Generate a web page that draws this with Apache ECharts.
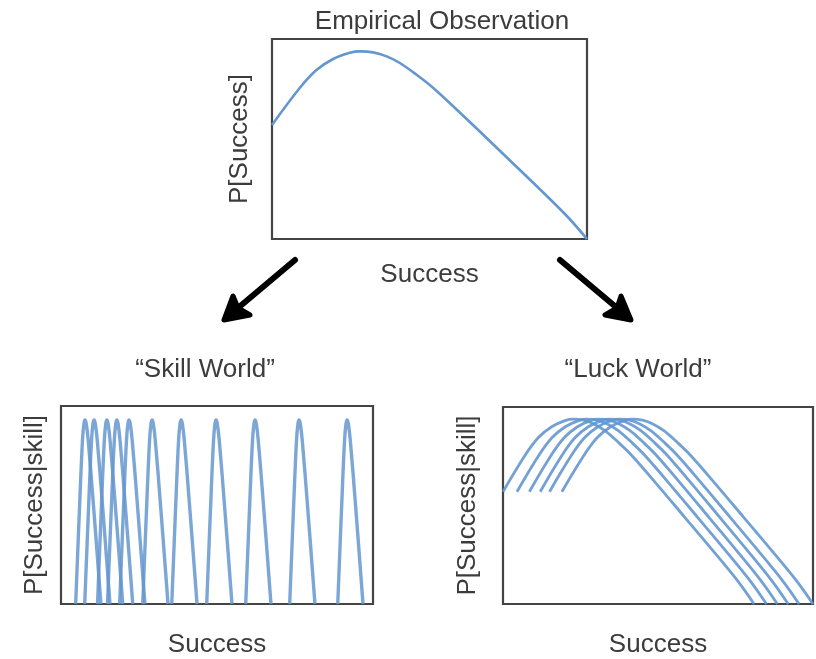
<!DOCTYPE html>
<html>
<head>
<meta charset="utf-8">
<script src="https://cdn.jsdelivr.net/npm/echarts@6/dist/echarts.min.js"></script>
<style>
html,body{margin:0;padding:0;background:#fff;}
#chart{width:816px;height:659px;}
</style>
</head>
<body>
<div id="chart"></div>
<script>
// ---- Data ----
// Empirical observation curve (x: Success 0..100, y: P[Success] 0..100)
var empX = [0, 8.8, 14.1, 19.4, 24.7, 27.9, 32.1, 36.4, 40.6, 45.9, 51.2, 61.8, 72.4, 83.0, 93.6, 100];
var empY = [57, 75.5, 84.5, 90, 93.1, 93.8, 93.3, 91.3, 88, 82.1, 75.5, 60, 44, 28, 11.5, 0];

// "Skill World": peak positions of each narrow curve and the common spike profile
var skillPeaks = [7.7, 10.6, 14.7, 17.9, 21.8, 29.2, 38.5, 49.7, 62.2, 76.3, 91.7];
var spikeDx = [-3.0, -1.6, -0.8, -0.35, 0, 0.4, 1.0, 2.6, 5.1];
var spikeY  = [0, 55, 83, 91, 93, 91, 83, 52, 0];

// "Luck World": start and end of each shifted copy of the empirical shape
var luckStarts = [0, 4.5, 8.5, 12, 15, 19];
var luckEnds   = [81, 85, 88.5, 92, 95.5, 100];

// Text
var titles = ['Empirical Observation', '\u201cSkill World\u201d', '\u201cLuck World\u201d'];
var xNames = ['Success', 'Success', 'Success'];
var yNames = ['P[Success]', 'P[Success|skill]', 'P[Success|skill]'];

// ---- Build series ----
var lineColor = '#6497cf';
var series = [];
series.push({
  type: 'line', xAxisIndex: 0, yAxisIndex: 0, smooth: 0.35, symbol: 'none',
  lineStyle: {color: lineColor, width: 2.6},
  data: empX.map(function (x, i) { return [x, empY[i]]; })
});
skillPeaks.forEach(function (p) {
  series.push({
    type: 'line', xAxisIndex: 1, yAxisIndex: 1, smooth: 0.4, symbol: 'none',
    lineStyle: {color: lineColor, width: 3.4, opacity: 0.85},
    data: spikeDx.map(function (d, i) { return [p + d, spikeY[i]]; })
  });
});
luckStarts.forEach(function (s, k) {
  var w = luckEnds[k] - s;
  series.push({
    type: 'line', xAxisIndex: 2, yAxisIndex: 2, smooth: 0.35, symbol: 'none',
    lineStyle: {color: lineColor, width: 2.8, opacity: 0.9},
    data: empX.map(function (x, i) { return [s + x / 100 * w, empY[i]]; })
  });
});

var grids = [
  {left: 272, top: 39, width: 315, height: 200},
  {left: 61, top: 406, width: 312, height: 200},
  {left: 503, top: 407, width: 310, height: 199}
];
var xGaps = [23, 28, 28];
var yGaps = [19, 13, 22];
var font = 'Liberation Sans, Arial, sans-serif';
var fs = 26;

function mkAxis(i, isX) {
  return {
    type: 'value', gridIndex: i, min: 0, max: 100,
    axisLine: {show: false}, axisTick: {show: false},
    axisLabel: {show: false}, splitLine: {show: false},
    name: isX ? xNames[i] : yNames[i],
    nameLocation: 'middle',
    nameGap: isX ? xGaps[i] : yGaps[i],
    nameTextStyle: {color: '#3c3c3c', fontSize: fs, fontFamily: font}
  };
}

var titlePos = [[442, 22], [205, 370], [638, 370]];
var graphics = titles.map(function (t, i) {
  return {
    type: 'text', x: titlePos[i][0], y: titlePos[i][1],
    style: {text: t, fill: '#3c3c3c', font: fs + 'px ' + font, textAlign: 'center', textVerticalAlign: 'middle'}
  };
});
// arrows
function arrow(shaft, head) {
  return [
    {type: 'line', shape: {x1: shaft[0], y1: shaft[1], x2: shaft[2], y2: shaft[3]},
     style: {stroke: '#000', lineWidth: 6, lineCap: 'round'}},
    {type: 'polygon', shape: {points: head},
     style: {stroke: '#000', lineWidth: 5, fill: '#000', lineJoin: 'round'}}
  ];
}
graphics = graphics.concat(arrow([295, 260, 232, 313], [[233, 296], [224, 320], [250, 315], [238, 308]]));
graphics = graphics.concat(arrow([560, 260, 623, 313], [[605, 315], [631, 320], [621, 296], [617, 308]]));

var chart = echarts.init(document.getElementById('chart'));
chart.setOption({
  backgroundColor: '#fff',
  animation: false,
  grid: grids.map(function (g) {
    return Object.assign({show: true, borderColor: '#444', borderWidth: 2.2, backgroundColor: 'transparent'}, g);
  }),
  xAxis: [0, 1, 2].map(function (i) { return mkAxis(i, true); }),
  yAxis: [0, 1, 2].map(function (i) { return mkAxis(i, false); }),
  series: series,
  graphic: graphics
});
</script>
</body>
</html>
